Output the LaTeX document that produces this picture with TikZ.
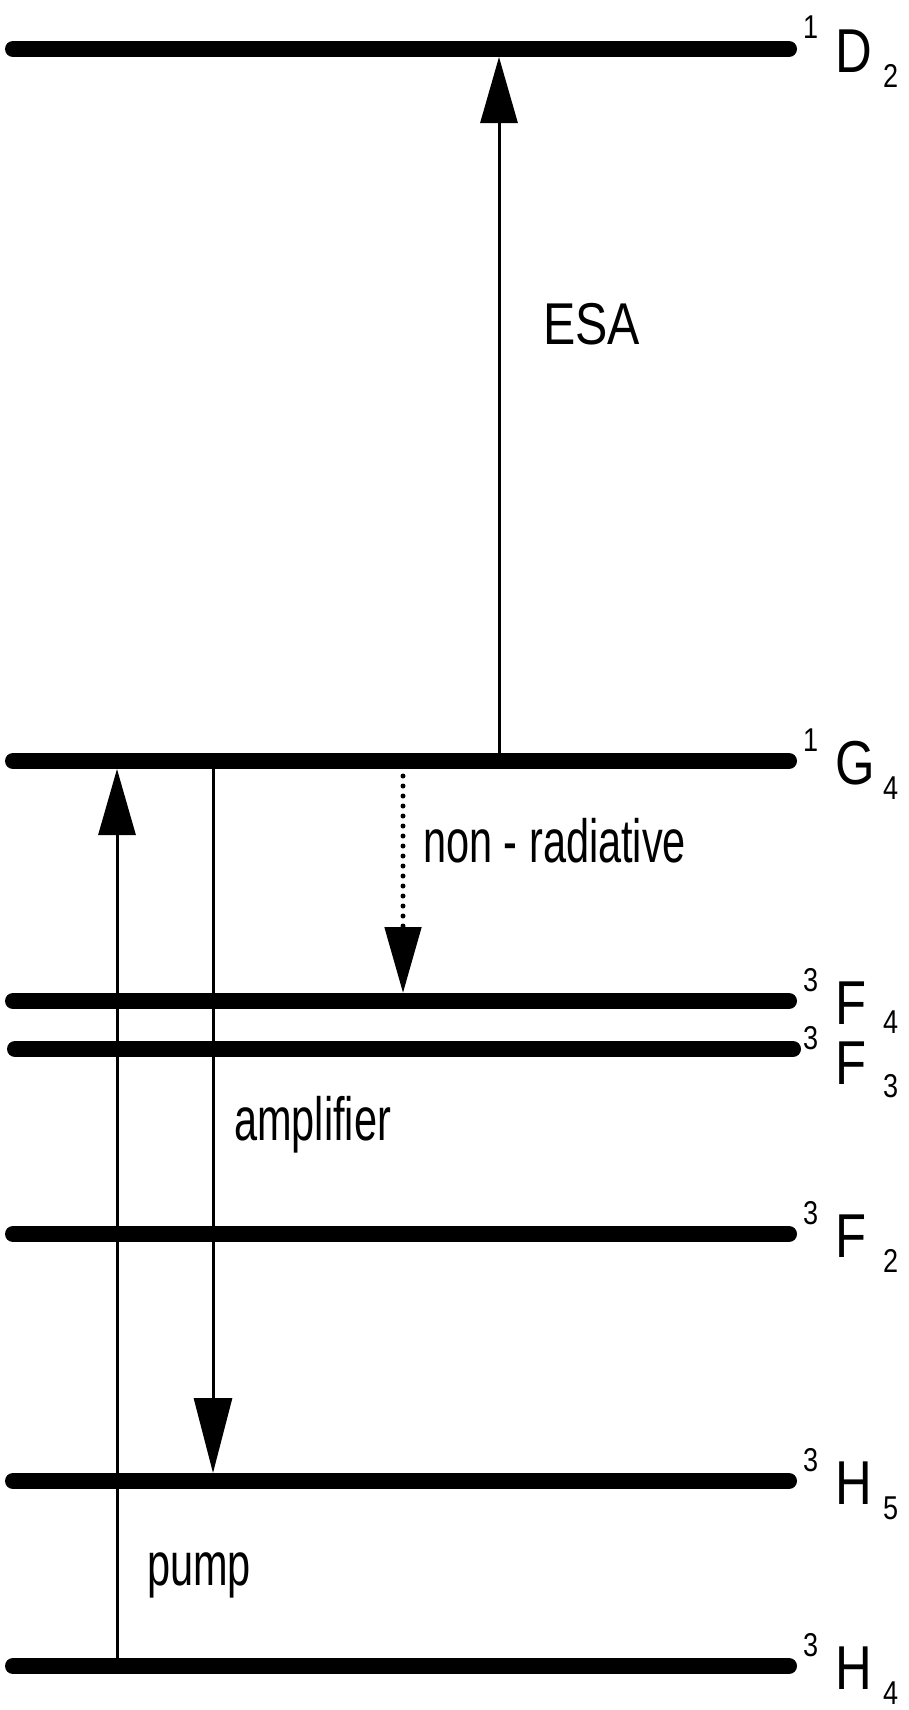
\documentclass[tikz,border=0pt]{standalone}
\usepackage{fontspec}
\setmainfont{Liberation Sans}[FakeStretch=0.82]
\newfontfamily\narrowfont{Liberation Sans}[FakeStretch=0.68]
\usetikzlibrary{arrows.meta}
\begin{document}
\begin{tikzpicture}[x=1pt,y=-1pt,
  level/.style={line width=16pt,line cap=round},
  trans/.style={line width=3pt,shorten >=8pt,-{Triangle[length=66pt,width=37pt]}},
  lbl/.style={font=\narrowfont\fontsize{61}{63}\selectfont,inner sep=0pt,anchor=base west},
  esalbl/.style={font=\fontsize{59}{61}\selectfont,inner sep=0pt,anchor=base west},
  term/.style={font=\fontsize{62}{64}\selectfont,inner sep=0pt,anchor=base west},
  idx/.style={font=\fontsize{33}{35}\selectfont,inner sep=0pt,anchor=base west}]
\useasboundingbox (0,0) rectangle (908,1710);
% levels
\coordinate (D2a) at (13,49);   \coordinate (D2b) at (789,49);
\coordinate (G4a) at (13,761);  \coordinate (G4b) at (789,761);
\coordinate (F4a) at (13,1001); \coordinate (F4b) at (789,1001);
\coordinate (F3a) at (15,1049); \coordinate (F3b) at (793,1049);
\coordinate (F2a) at (13,1234); \coordinate (F2b) at (789,1234);
\coordinate (H5a) at (13,1481); \coordinate (H5b) at (789,1481);
\coordinate (H4a) at (13,1666); \coordinate (H4b) at (789,1666);
\draw[level] (D2a) -- (D2b);
\draw[level] (G4a) -- (G4b);
\draw[level] (F4a) -- (F4b);
\draw[level] (F3a) -- (F3b);
\draw[level] (F2a) -- (F2b);
\draw[level] (H5a) -- (H5b);
\draw[level] (H4a) -- (H4b);
% transitions
\coordinate (esaX) at (499,0);
\coordinate (pumpX) at (117,0);
\coordinate (ampX) at (213,0);
\coordinate (nrX) at (403,0);
\draw[trans] (esaX |- G4a) -- (esaX |- D2a);
\draw[trans] (pumpX |- H4a) -- (pumpX |- G4a);
\draw[trans,-{Triangle[length=75pt,width=38pt]}] (ampX |- G4a) -- (ampX |- H5a);
\draw[trans,line width=5pt,line cap=round,dash pattern=on 0pt off 10pt,shorten <=15pt,
  -{Triangle[length=66pt,width=36pt]}] (nrX |- G4a) -- (nrX |- F4a);
% texts
\node[esalbl] (esa) at (543,344) {ESA};
\node[lbl] (nr) at (423,862) {non - radiative};
\node[lbl] (amp) at (234,1140) {amplifier};
\node[lbl] (pump) at (147,1585) {pump};
% term labels
\node[idx] (D2s) at (803,39) {1};   \node[term] (D2t) at (835,72) {D};   \node[idx] (D2i) at (883,87) {2};
\node[idx] (G4s) at (803,751) {1};  \node[term] (G4t) at (835,784) {G};  \node[idx] (G4i) at (883,799) {4};
\node[idx] (F4s) at (803,991) {3};  \node[term] (F4t) at (835,1024) {F}; \node[idx] (F4i) at (883,1033) {4};
\node[idx] (F3s) at (803,1049) {3}; \node[term] (F3t) at (835,1084) {F}; \node[idx] (F3i) at (883,1097) {3};
\node[idx] (F2s) at (803,1224) {3}; \node[term] (F2t) at (835,1257) {F}; \node[idx] (F2i) at (883,1272) {2};
\node[idx] (H5s) at (803,1471) {3}; \node[term] (H5t) at (835,1504) {H}; \node[idx] (H5i) at (883,1519) {5};
\node[idx] (H4s) at (803,1656) {3}; \node[term] (H4t) at (835,1689) {H}; \node[idx] (H4i) at (883,1704) {4};
\end{tikzpicture}
\end{document}
